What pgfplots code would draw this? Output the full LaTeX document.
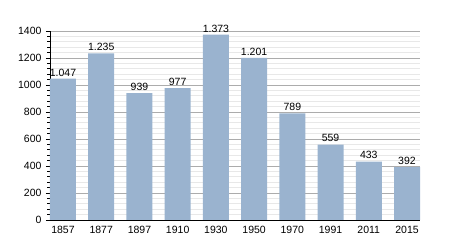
\documentclass[border=0pt]{standalone}
\usepackage{fontspec}
\setmainfont{Liberation Sans}
\usepackage{pgfplots}
\pgfplotsset{compat=1.18}
\definecolor{barc}{RGB}{154,179,207}
\begin{document}
\begin{tikzpicture}
\begin{axis}[
  scale only axis,
  width=370pt, height=189pt,
  xmin=-0.34, xmax=9.34,
  ymin=0, ymax=1400,
  axis x line*=bottom,
  axis y line*=left,
  axis line style={black, line width=0.8pt},
  xtick={0,...,9},
  xticklabels={1857,1877,1897,1910,1930,1950,1970,1991,2011,2015},
  x tick style={draw=none},
  ytick={0,200,...,1400},
  minor y tick num=4,
  y tick style={black, line width=0.6pt},
  tick align=outside,
  major tick length=4pt,
  minor tick length=2.5pt,
  ymajorgrids, yminorgrids,
  major grid style={gray!65, line width=0.7pt},
  minor grid style={gray!18, line width=0.6pt},
  tick label style={font=\fontsize{10.5}{12}\selectfont},
  /pgf/number format/assume math mode=true,
  /pgf/number format/1000 sep={},
  yticklabel style={xshift=-1pt},
  xticklabel style={yshift=1pt},
]
\addplot[ybar, bar width=26pt, fill=barc, draw=none,
  nodes near coords,
  point meta=explicit symbolic,
  every node near coord/.style={font=\fontsize{10.5}{12}\selectfont, black, yshift=-1pt},
] table[meta=lab] {
x y lab
0 1047 1.047
1 1235 1.235
2 939 939
3 977 977
4 1373 1.373
5 1201 1.201
6 789 789
7 559 559
8 433 433
9 392 392
};
\end{axis}
\path ([shift={(-50pt,-30pt)}]current axis.south west) rectangle ([shift={(30pt,31pt)}]current axis.north east);
\end{tikzpicture}
\end{document}
